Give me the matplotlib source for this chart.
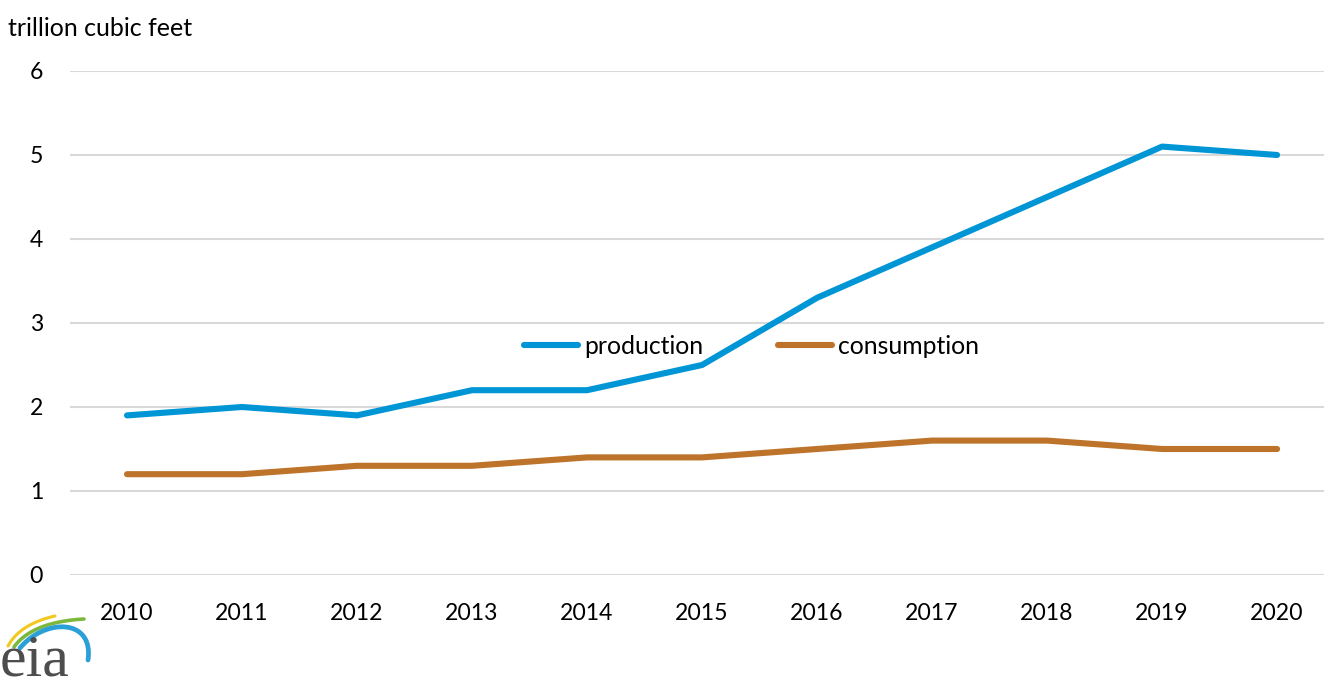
import matplotlib.pyplot as plt
import numpy as np
from math import comb

# values
years = ['2010', '2011', '2012', '2013', '2014', '2015', '2016', '2017', '2018', '2019', '2020']
production = [1.9, 2.0, 1.9, 2.2, 2.2, 2.5, 3.3, 3.9, 4.5, 5.1, 5.0]
consumption = [1.2, 1.2, 1.3, 1.3, 1.4, 1.4, 1.5, 1.6, 1.6, 1.5, 1.5]
y_ticks = [0, 1, 2, 3, 4, 5, 6]

plt.rcParams['font.family'] = ['Lato', 'DejaVu Sans']

fig = plt.figure(figsize=(13.24, 6.82), dpi=100)
ax = fig.add_axes([0.0525, 0.1569, 0.9555, 0.739])

x = np.arange(len(years))
ax.plot(x, production, color='#0096D6', lw=4.4, solid_capstyle='round', label='production')
ax.plot(x, consumption, color='#BD732A', lw=4.4, solid_capstyle='round', label='consumption')

ax.set_xlim(-0.5, len(years) - 0.5)
ax.set_ylim(0, 6)
ax.set_yticks(y_ticks)
ax.set_xticks(x)
ax.set_xticklabels(years)
ax.grid(axis='y', color='#d9d9d9', lw=1.5)
ax.set_axisbelow(True)
for s in ax.spines.values():
    s.set_visible(False)
ax.tick_params(length=0, labelsize=16.6, colors='black')
ax.tick_params(axis='y', pad=19)
ax.tick_params(axis='x', pad=20)

leg = ax.legend(ncol=2, frameon=False, loc='center', bbox_to_anchor=(0.539, 0.454),
                fontsize=17.8, handlelength=2.2, handletextpad=0.25, columnspacing=3.0)

fig.text(0.006, 0.958, 'trillion cubic feet', fontsize=18, va='center', ha='left')


def bezier(pts, n=60):
    # bezier curve through control points, for the logo swooshes
    pts = np.array(pts, dtype=float)
    t = np.linspace(0, 1, n)[:, None]
    k = len(pts) - 1
    return sum(comb(k, i) * (1 - t) ** (k - i) * t ** i * pts[i] for i in range(k + 1))


# eia logo, bottom left (axes in pixel units)
logo = fig.add_axes([0.0, 0.0, 100 / 1324, 72 / 682])
logo.set_xlim(0, 100)
logo.set_ylim(682, 610)
logo.axis('off')
c = bezier([(8, 646), (20, 624), (55, 616)])
logo.plot(c[:, 0], c[:, 1], color='#F2C81E', lw=2.2, solid_capstyle='round')
c = bezier([(14, 647), (32, 622), (84, 619)])
logo.plot(c[:, 0], c[:, 1], color='#7DB83E', lw=2.6, solid_capstyle='round')
c = bezier([(20, 648), (45, 618), (94, 618), (88, 660)])
logo.plot(c[:, 0], c[:, 1], color='#2A9FD8', lw=3.4, solid_capstyle='round')
logo.text(0, 676, 'eia', family='Liberation Serif', fontsize=43, color='#4d4d4d',
          va='baseline', ha='left')

fig.savefig('out.png', dpi=100)
